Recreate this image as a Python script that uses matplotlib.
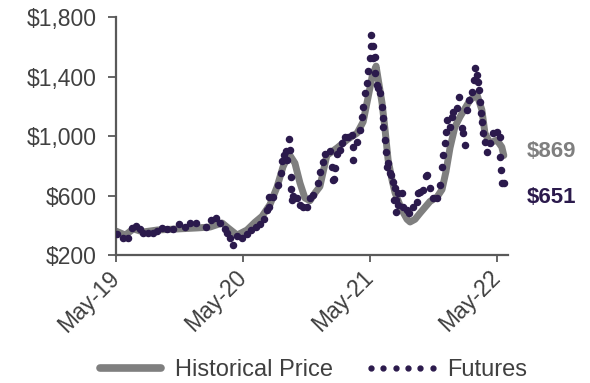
"""Historical price vs futures line/dot chart."""
import matplotlib
matplotlib.use("Agg")
import matplotlib.pyplot as plt
from matplotlib.lines import Line2D
import pandas as pd

plt.rcParams["font.family"] = ["Liberation Sans", "DejaVu Sans"]

GRAY = "#7f7f7f"
PURPLE = "#2b1a4c"
TEXT = "#404040"

# decimal-year dates
hist_t = [2019.331, 2019.402, 2019.465, 2019.544, 2019.654, 2019.811, 2019.969,
          2020.071, 2020.166, 2020.213, 2020.284, 2020.362, 2020.425, 2020.481,
          2020.544, 2020.599, 2020.646, 2020.693, 2020.740, 2020.780, 2020.819,
          2020.859, 2020.898, 2020.937, 2020.992, 2021.071, 2021.150, 2021.229,
          2021.276, 2021.315, 2021.347, 2021.378, 2021.425, 2021.449, 2021.473,
          2021.504, 2021.528, 2021.583, 2021.622, 2021.646, 2021.685, 2021.725,
          2021.803, 2021.859, 2021.898, 2021.929, 2021.961, 2022.000, 2022.040,
          2022.118, 2022.174, 2022.213, 2022.237, 2022.276, 2022.331, 2022.370,
          2022.386]
hist_price = [360, 334, 375, 355, 368, 375, 382,
              388, 415, 382, 334, 368, 420, 460,
              540, 657, 792, 880, 818, 684, 583,
              565, 617, 660, 870, 920, 975, 1020,
              1095, 1260, 1400, 1470, 1222, 1040, 839,
              704, 617, 500, 440, 422, 440, 482,
              560, 590, 640, 760, 920, 1060, 1128,
              1240, 1280, 1175, 1020, 953, 973, 926,
              869]

# futures dates were read in picture pixels: May-19 at 116, 127 px per year
fut_x = [117, 123, 128, 132, 136, 140, 143, 148, 153, 157, 162, 167, 173, 179,
         185, 190, 196, 206, 211, 216, 220, 225, 227, 230, 233, 237, 242, 247,
         251, 256, 260, 264, 267, 269, 269, 273, 278, 281, 282, 284, 286, 287,
         289, 290, 291, 291, 292, 293, 297, 300, 303, 307, 310, 313, 318, 320,
         323, 325, 330, 332, 333, 334, 335, 337, 340, 342, 345, 348, 352, 353,
         353, 357, 360, 362, 363, 365, 367, 368, 370, 371, 371, 373, 373, 375,
         375, 377, 378, 380, 382, 383, 383, 385, 386, 387, 388, 390, 391, 393,
         394, 395, 396, 396, 398, 398, 402, 403, 407, 409, 413, 417, 418, 420,
         423, 426, 427, 430, 433, 437, 440, 442, 443, 445, 446, 447, 450, 452,
         453, 457, 459, 462, 463, 465, 467, 469, 472, 474, 475, 477, 478, 479,
         480, 481, 482, 483, 485, 487, 490, 493, 497, 500, 500, 501, 502, 504]
fut_price = [341, 314, 314, 382, 395, 375, 348, 348, 348, 361, 382, 375, 375, 408,
             388, 415, 415, 388, 435, 449, 415, 375, 348, 314, 267, 328, 314, 341,
             368, 388, 410, 442, 505, 523, 590, 590, 670, 751, 832, 872, 899, 839,
             980, 906, 724, 644, 570, 597, 583, 536, 523, 523, 583, 603, 684, 758,
             825, 879, 899, 791, 704, 711, 785, 879, 906, 953, 993, 993, 1007, 926,
             839, 960, 1040, 1128, 1195, 1289, 1356, 1437, 1524, 1605, 1679, 1605, 1524, 1531,
             1423, 1343, 1323, 1289, 1195, 1121, 1060, 973, 892, 791, 818, 751, 738, 691,
             570, 650, 570, 489, 617, 536, 617, 523, 502, 482, 523, 556, 617, 624,
             637, 731, 738, 650, 583, 583, 670, 791, 872, 953, 1027, 1108, 1060, 1128,
             1161, 1188, 1262, 1054, 1020, 939, 1175, 1242, 1296, 1376, 1457, 1410, 1363, 1309,
             1229, 1155, 1094, 1020, 960, 892, 953, 1020, 1027, 993, 859, 771, 684, 684]

tick_labels = ["May-19", "May-20", "May-21", "May-22"]
last_hist_label = "$869"
last_fut_label = "$651"


def to_dates(years):
    """Decimal year -> timestamps."""
    out = []
    for y in years:
        yr = int(y)
        start = pd.Timestamp(year=yr, month=1, day=1)
        out.append(start + pd.Timedelta(days=(y - yr) * 365.25))
    return out


fut_t = [2019.331 + (x - 116) / 127 for x in fut_x]

fig = plt.figure(figsize=(5.9, 3.83), dpi=100)
ax = fig.add_axes([0.1966, 0.3342, 0.6644, 0.6214])

ax.plot(to_dates(hist_t), hist_price, color=GRAY, lw=5,
        solid_capstyle="round", solid_joinstyle="round", zorder=2)
ax.plot(to_dates(fut_t), fut_price, linestyle="none", marker="o",
        ms=4.4, color=PURPLE, mec=PURPLE, zorder=3)

ax.set_ylim(200, 1800)
ax.set_yticks([200, 600, 1000, 1400, 1800])
ax.set_yticklabels(["$200", "$600", "$1,000", "$1,400", "$1,800"])
ax.set_xlim(pd.Timestamp("2019-05-01"), pd.Timestamp("2022-06-03"))
ax.set_xticks([pd.Timestamp(f"20{s[-2:]}-05-01") for s in tick_labels])
ax.set_xticklabels(tick_labels, rotation=45, ha="right", va="center",
                   rotation_mode="anchor")

for side in ["top", "right"]:
    ax.spines[side].set_visible(False)
for side in ["left", "bottom"]:
    ax.spines[side].set_color("#595959")
    ax.spines[side].set_linewidth(1.6)
ax.tick_params(axis="both", colors="#595959", labelcolor=TEXT,
               labelsize=16.5, length=5, width=1.3)
ax.tick_params(axis="y", pad=8, length=6)
ax.tick_params(axis="x", pad=9)

fig.text(0.893, 0.605, last_hist_label, color=GRAY, fontsize=16,
         fontweight="bold", va="center", ha="left")
fig.text(0.893, 0.485, last_fut_label, color=PURPLE, fontsize=16,
         fontweight="bold", va="center", ha="left")

handles = [Line2D([], [], color=GRAY, lw=5.5, solid_capstyle="round"),
           Line2D([], [], color=PURPLE, linestyle="none", marker="o", ms=3.5)]
fig.legend(handles, ["Historical Price", "Futures"], loc="center",
           bbox_to_anchor=(0.525, 0.034), ncol=2, frameon=False,
           fontsize=17, labelcolor=TEXT, handlelength=3.2,
           handletextpad=0.3, columnspacing=1.3, numpoints=6,
           borderaxespad=0)

fig.savefig("out.png", dpi=100)
